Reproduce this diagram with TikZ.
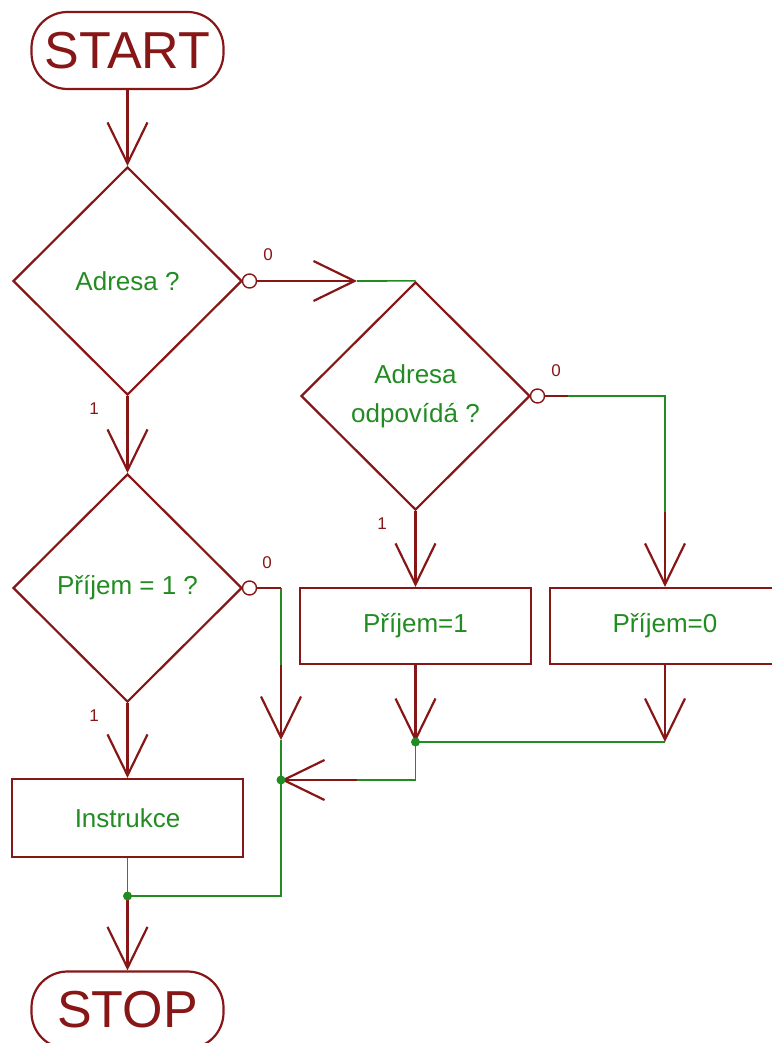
\documentclass[tikz,border=0pt]{standalone}
\usepackage{fontspec}
\setmainfont{Liberation Sans}
\usetikzlibrary{arrows.meta,shapes.geometric}
\definecolor{wine}{RGB}{135,22,22}
\definecolor{leaf}{RGB}{34,140,34}

\begin{document}
\begin{tikzpicture}
[x=1pt,y=-1pt,
 >={Straight Barb[length=41pt,width=40pt]},
 flow/.style={draw=wine,line width=2.2pt},
 wire/.style={draw=leaf,line width=1.6pt},
 ask/.style={diamond,draw=wine,line width=2.2pt,minimum width=229pt,minimum height=228pt,inner sep=0pt,text=leaf,align=center,font=\fontsize{26}{39}\selectfont},
 box/.style={rectangle,draw=wine,line width=2.2pt,minimum width=231pt,minimum height=76pt,text=leaf,font=\fontsize{26}{30}\selectfont},
 term/.style={rectangle,rounded corners=36pt,draw=wine,line width=2.2pt,minimum width=192pt,minimum height=77pt,text=wine,font=\fontsize{52}{52}\selectfont},
 neg/.style={circle,draw=wine,fill=white,line width=1.4pt,minimum size=14pt,inner sep=0pt},
 tag/.style={text=wine,font=\fontsize{17}{17}\selectfont}]
\useasboundingbox (0,0) rectangle (771,1043);

% blocks
\node[term] (start) at (127.5,50.5) {START};
\node[ask] (adr) at (127.5,281) {Adresa ?};
\node[ask] (odp) at (415.5,396) {Adresa\\odpovídá ?};
\node[ask] (prij) at (127.5,588) {Příjem = 1 ?};
\node[box] (p1) at (415.5,626) {Příjem=1};
\node[box,minimum width=230pt] (p0) at (665,626) {Příjem=0};
\node[box,minimum height=78pt] (instr) at (127.5,818) {Instrukce};
\node[term] (stop) at (127.5,1010) {STOP};

% negated outputs
\node[neg] (n1) at (249.5,281) {};
\node[neg] (n2) at (537.5,396) {};
\node[neg] (n3) at (249.5,588) {};

% labels
\node[tag] (z1) at (268,255) {0};
\node[tag] (z2) at (556,371) {0};
\node[tag] (z3) at (267,563) {0};
\node[tag] (o1) at (94,409) {1};
\node[tag] (o2) at (382,524) {1};
\node[tag] (o3) at (94,716) {1};

% bends and junctions
\coordinate (a1) at (357,281);
\coordinate (b1) at (568,396);
\coordinate (b2) at (665,512);
\coordinate (c1) at (281,588);
\coordinate (c2) at (281,665);
\coordinate (c3) at (281,740);
\coordinate (c4) at (281,896);
\coordinate (d1) at (665,742);
\coordinate (d2) at (415,780);
\coordinate (d3) at (357,780);
\coordinate (j1) at (281,780);
\coordinate (j2) at (127.5,896);
\coordinate (j3) at (415.5,742);

% connections
\draw[wire] (a1) -- (odp.north);
\draw[wire] (b1) -| (b2);
\draw[wire] (c1) -- (c2);
\draw[wire] (c3) -- (c4) -- (j2);
\draw[wire] (d1) -- (j3) |- (d3);
\draw[wire] (instr.south) -- (j2);

\draw[flow,->] (start.south) -- (adr.north);
\draw[flow,->] (n1) -- (a1);
\draw[flow,->] (adr.south) -- (prij.north);
\draw[flow,->] (odp.south) -- (p1.north);
\draw[flow] (n2) -- (b1);
\draw[flow,->] (b2) -- (p0.north);
\draw[flow] (n3) -- (c1);
\draw[flow,->] (c2) -- (c3);
\draw[flow,->] (prij.south) -- (instr.north);
\draw[flow,->] (p1.south) -- (j3);
\draw[flow,->] (p0.south) -- (d1);
\draw[flow,->] (d3) -- (j1);
\draw[flow,->] (j2) -- (stop.north);

\foreach \j in {j1,j2,j3}
  \fill[leaf] (\j) circle (4.5pt);
\end{tikzpicture}
\end{document}
